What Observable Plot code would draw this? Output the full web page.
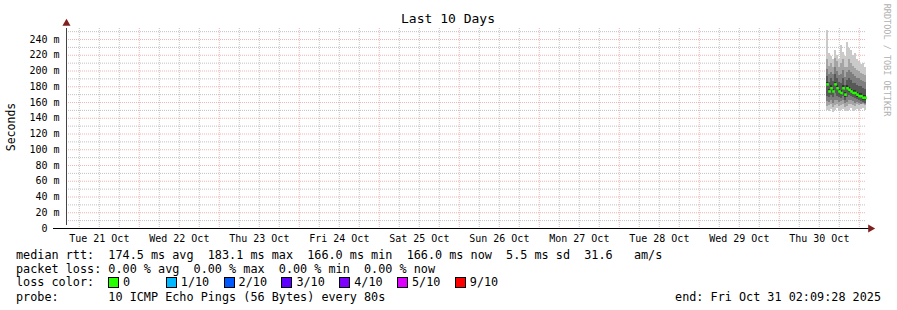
<!DOCTYPE html>
<html><head><meta charset="utf-8">
<script src="https://cdn.jsdelivr.net/npm/d3@7"></script>
<script src="https://cdn.jsdelivr.net/npm/@observablehq/plot@0.6"></script>
<style>
html,body{margin:0;padding:0;background:#fff;}
#wrap{position:relative;width:897px;height:310px;background:#fff;font-family:"DejaVu Sans Mono",monospace;color:#000;overflow:hidden;}
#chart{position:absolute;left:0;top:0;}
.t{position:absolute;white-space:pre;line-height:14px;height:14px;}
.lg{font-size:11.8px;}
.box{position:absolute;width:9px;height:9px;border:1px solid #000;}
</style></head>
<body>
<div id="wrap">
  <div id="chart"></div>
</div>
<script>
// ---- data ----
const titleText = "Last 10 Days";
const yLabel = "Seconds";
const startTime = "2025-10-21T02:09:28Z";
const endTime = "2025-10-31T02:09:28Z";
const columnTimes = [
  "2025-10-30T14:09:28Z","2025-10-30T14:45:28Z","2025-10-30T15:21:28Z","2025-10-30T15:57:28Z",
  "2025-10-30T16:33:28Z","2025-10-30T17:09:28Z","2025-10-30T17:45:28Z","2025-10-30T18:21:28Z",
  "2025-10-30T18:57:28Z","2025-10-30T19:33:28Z","2025-10-30T20:09:28Z","2025-10-30T20:45:28Z",
  "2025-10-30T21:21:28Z","2025-10-30T21:57:28Z","2025-10-30T22:33:28Z","2025-10-30T23:09:28Z",
  "2025-10-30T23:45:28Z","2025-10-31T00:21:28Z","2025-10-31T00:57:28Z","2025-10-31T01:33:28Z"
];
// sorted pings (ms) per column
const ping1  = [150,148,151,147,150,152,149,150,151,148,149,150,152,149,150,151,150,151,152,150];
const ping2  = [155,156,157,154,156,158,155,156,157,154,155,157,158,156,155,157,156,157,158,156];
const ping3  = [161,160,162,159,163,162,160,161,162,159,160,163,162,161,159,160,159,158,159,157];
const ping4  = [168,166,169,167,172,168,166,165,168,163,166,169,168,166,165,164,162,161,160,159];
const ping5  = [180,171,175,171,180,175,171,169,175,167,175,173,171,169,169,167,165,165,163,163];
const ping6  = [186,177,181,177,186,181,177,175,181,173,181,179,177,175,175,173,171,171,169,169];
const ping7  = [193,185,190,187,195,190,185,184,191,182,188,190,188,184,184,182,180,180,178,177];
const ping8  = [202,195,198,195,205,200,194,196,201,192,198,201,198,195,193,191,190,188,187,185];
const ping9  = [214,206,210,205,216,212,204,209,214,204,205,214,210,206,203,201,199,197,196,194];
const ping10 = [252,222,218,215,226,220,214,232,224,218,236,228,226,220,222,215,212,208,209,205];
const medianRtt = [183,174,178,174,183,178,174,172,178,170,178,176,174,172,172,170,168,168,166,166];
const yTicks = [0,20,40,60,80,100,120,140,160,180,200,220,240];
const dayNoons = ["2025-10-21T12:00:00Z","2025-10-22T12:00:00Z","2025-10-23T12:00:00Z","2025-10-24T12:00:00Z","2025-10-25T12:00:00Z","2025-10-26T12:00:00Z","2025-10-27T12:00:00Z","2025-10-28T12:00:00Z","2025-10-29T12:00:00Z","2025-10-30T12:00:00Z"];
const dayLabels = ["Tue 21 Oct","Wed 22 Oct","Thu 23 Oct","Fri 24 Oct","Sat 25 Oct","Sun 26 Oct","Mon 27 Oct","Tue 28 Oct","Wed 29 Oct","Thu 30 Oct"];
const medianStats = ["174.5 ms avg","183.1 ms max","166.0 ms min","166.0 ms now","5.5 ms sd","31.6   am/s"];
const lossStats = ["0.00 % avg","0.00 % max","0.00 % min","0.00 % now"];
const lossLabels = ["0","1/10","2/10","3/10","4/10","5/10","9/10"];
const lossColors = ["#26ff00","#00b8ff","#0059ff","#5e00ff","#7e00ff","#dd00ff","#ff0000"];
const probeText = "10 ICMP Echo Pings (56 Bytes) every 80s";
const endText = "end: Fri Oct 31 02:09:28 2025";
const watermark = "RRDTOOL / TOBI OETIKER";

// ---- build ----
const x0 = new Date(startTime), x1 = new Date(endTime);
const times = columnTimes.map(s => new Date(s));
const ends = times.slice(1).concat([x1]);
const pings = [ping1,ping2,ping3,ping4,ping5,ping6,ping7,ping8,ping9,ping10];
const shades = ["#cacaca","#a4a4a4","#7e7e7e","#585858","#323232"];
const bands = shades.map((c, b) => times.map((t, i) => ({t1: t, t2: ends[i], lo: pings[b][i], hi: pings[9 - b][i]})));
const medData = times.map((t, i) => ({t: new Date((+t + +ends[i]) / 2), m: medianRtt[i]}));
const dayMap = new Map(dayNoons.map((d, i) => [+new Date(d), dayLabels[i]]));

const majorX = d3.utcDay.range(x0, x1);
const minorX = d3.utcHour.every(6).range(x0, x1).filter(d => d.getUTCHours() !== 0);
const majorY = yTicks.filter(v => v > 0);
const minorY = d3.range(10, 260, 10).filter(v => v % 20 !== 0);

const gridMinor = {stroke: "#8f8f8f", strokeOpacity: 0.55, strokeDasharray: "1,1"};
const gridMajor = {stroke: "#de4f4f", strokeOpacity: 0.42, strokeDasharray: "1,1"};

const chart = Plot.plot({
  width: 897, height: 245,
  marginLeft: 66, marginRight: 31, marginTop: 28, marginBottom: 17,
  style: {fontFamily: '"DejaVu Sans Mono", monospace', fontSize: "10px", background: "transparent", color: "#000", overflow: "visible"},
  x: {type: "utc", domain: [x0, x1]},
  y: {domain: [0, 254]},
  marks: [
    Plot.ruleY(minorY, gridMinor),
    Plot.ruleX(minorX, gridMinor),
    Plot.ruleY(majorY, gridMajor),
    Plot.ruleX(majorX, gridMajor),
    ...bands.map((data, b) => Plot.rect(data, {x1: "t1", x2: "t2", y1: "lo", y2: "hi", fill: shades[b], inset: 0, shapeRendering: "crispEdges"})),
    Plot.dot(medData, {x: "t", y: "m", symbol: "square", r: 1.5, fill: "#26ff00", stroke: null}),
    Plot.axisY(yTicks, {tickSize: 0, tickPadding: 7, tickFormat: d => d === 0 ? "0\u00a0\u00a0" : d + " m", label: null}),
    Plot.axisX(dayNoons.map(d => new Date(d)), {tickSize: 0, tickPadding: 6, tickFormat: d => dayMap.get(+d), label: null}),
    Plot.ruleX([x0], {y1: 0, y2: 254, insetTop: -3, stroke: "#444"}),
    Plot.ruleY([0], {x1: x0, x2: x1, insetLeft: -13, insetRight: -3, stroke: "#000"}),
    Plot.dot([{x: x1, y: 0}], {x: "x", y: "y", symbol: "triangle", r: 3, rotate: 90, dx: 4, fill: "#801f1f", stroke: null}),
    Plot.dot([{x: x0, y: 254}], {x: "x", y: "y", symbol: "triangle", r: 3, dy: -5, fill: "#801f1f", stroke: null})
  ]
});
const wrap = document.getElementById("wrap");
document.getElementById("chart").appendChild(chart);

function addText(txt, left, top, cls, style) {
  const d = document.createElement("div");
  d.className = "t " + (cls || "");
  d.textContent = txt;
  d.style.left = left + "px";
  d.style.top = top + "px";
  if (style) Object.assign(d.style, style);
  wrap.appendChild(d);
  return d;
}
addText(titleText, 448, 19, "", {fontSize: "13px", transform: "translate(-50%,-50%)"});
addText(yLabel, 11, 127, "", {fontSize: "11.5px", transform: "translate(-50%,-50%) rotate(-90deg)"});
addText(watermark, 887, 60, "", {fontSize: "8.5px", color: "#b0b0b0", transform: "translate(-50%,-50%) rotate(90deg)"});
const L1 = 255, L2 = 268.5, L3 = 282.3, L4 = 296.7;
addText("median rtt:  " + medianStats.join("  "), 16, L1 - 7, "lg");
addText("packet loss: " + lossStats.join("  "), 16, L2 - 7, "lg");
addText("loss color:", 16, L3 - 7, "lg");
lossLabels.forEach((lab, k) => {
  const bx = 108 + 57.8 * k;
  const b = document.createElement("div");
  b.className = "box";
  b.style.left = bx + "px";
  b.style.top = (L3 - 5) + "px";
  b.style.background = lossColors[k];
  wrap.appendChild(b);
  addText(lab, bx + 15, L3 - 7, "lg");
});
addText("probe:       " + probeText, 16, L4 - 7, "lg");
addText(endText, 881, L4 - 7, "lg", {transform: "translateX(-100%)"});
</script>
</body></html>
